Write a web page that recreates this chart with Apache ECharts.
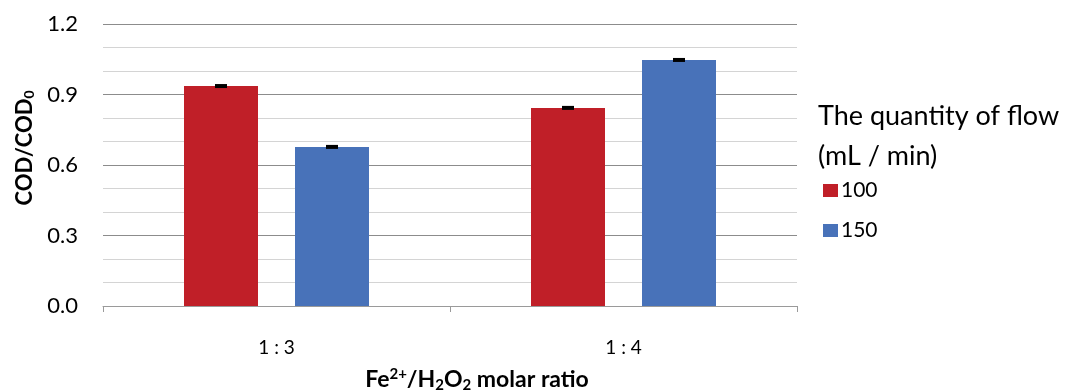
<!DOCTYPE html>
<html><head><meta charset="utf-8">
<script src="https://cdn.jsdelivr.net/npm/echarts@6/dist/echarts.min.js"></script>
<style>html,body{margin:0;padding:0;background:#fff}#c{width:1069px;height:392px}</style>
</head><body><div id="c"></div>
<script>
const categories = ['1 : 3', '1 : 4'];
const seriesNames = ['100', '150'];
const values100 = [0.936, 0.843];
const values150 = [0.677, 1.047];
const err100 = [0.003, 0.003];
const err150 = [0.003, 0.003];
const yTicks = [0.0, 0.3, 0.6, 0.9, 1.2];

const colors = ['#C01F28', '#4872B9'];
const FONT = 'Lato';

function errSeries(idx, vals, errs) {
  return {
    type: 'custom', name: seriesNames[idx] + ' err', z: 10,
    data: vals.map((v, i) => [i, v, errs[i]]),
    renderItem: function (params, api) {
      const ci = api.value(0), v = api.value(1), e = api.value(2);
      const c = api.coord([ci, v]);
      const off = (idx === 0 ? -55.5 : 55.5);
      const top = api.coord([ci, v + e])[1];
      const bot = api.coord([ci, v - e])[1];
      const h = Math.max(bot - top, 4);
      return {
        type: 'rect',
        shape: { x: c[0] + off - 6, y: c[1] - h / 2, width: 12, height: h },
        style: { fill: '#000' }
      };
    },
    silent: true, tooltip: { show: false }
  };
}

const chart = echarts.init(document.getElementById('c'), null, { renderer: 'canvas' });
chart.setOption({
  animation: false,
  color: colors,
  textStyle: { fontFamily: FONT },
  grid: { left: 103, right: 272, top: 24, bottom: 86, containLabel: false, outerBoundsMode: 'none' },
  legend: {
    data: seriesNames,
    orient: 'vertical', left: 818, top: 175, itemGap: 19,
    itemWidth: 15, itemHeight: 13, icon: 'rect',
    textStyle: { fontFamily: FONT, fontSize: 21, color: '#000', padding: [0, 0, 0, -2] }
  },
  graphic: [{
    type: 'text', left: 818, top: 96,
    style: { text: 'The quantity of flow\n(mL / min)', font: '27px ' + FONT, fill: '#000', lineHeight: 40 }
  }],
  xAxis: {
    type: 'category', data: categories,
    axisLine: { lineStyle: { color: '#9a9a9a', width: 1 } },
    axisTick: { show: true, length: 6, lineStyle: { color: '#9a9a9a' } },
    axisLabel: { fontSize: 19, color: '#000', margin: 32, fontFamily: FONT },
    name: 'Fe{sup|2+}/H{sub|2}O{sub|2} molar ratio',
    nameLocation: 'middle', nameGap: 61,
    nameTextStyle: {
      fontSize: 23, fontWeight: 'bold', color: '#000', fontFamily: FONT,
      padding: [0, 0, 0, 54],
      rich: {
        sup: { fontSize: 15, fontWeight: 'bold', fontFamily: FONT, color: '#000', verticalAlign: 'top', padding: [0, 0, 9, 0] },
        sub: { fontSize: 15, fontWeight: 'bold', fontFamily: FONT, color: '#000', verticalAlign: 'bottom', padding: [11, 0, 0, 0] }
      }
    }
  },
  yAxis: {
    type: 'value', min: 0, max: 1.2, interval: 0.1,
    axisLine: { show: false }, axisTick: { show: false },
    axisLabel: {
      fontSize: 22, color: '#000', margin: 25, fontFamily: FONT,
      formatter: function (v) {
        const r = Math.round(v * 10);
        return (r % 3 === 0) ? (r / 10).toFixed(1) : '';
      }
    },
    splitLine: { lineStyle: { color: ['#8c8c8c', '#d4d4d4', '#d4d4d4'], width: 1 } },
    name: 'COD/COD{sub|0}', nameLocation: 'middle', nameGap: 66, nameRotate: 90,
    nameTextStyle: {
      fontSize: 22, fontWeight: 'bold', color: '#000', fontFamily: FONT,
      padding: [0, 0, 0, 34],
      rich: {
        sub: { fontSize: 14, fontWeight: 'bold', fontFamily: FONT, color: '#000', verticalAlign: 'bottom', padding: [8, 0, 0, 0] }
      }
    }
  },
  series: [
    { type: 'bar', name: seriesNames[0], data: values100, barWidth: 74, barGap: '50%' },
    { type: 'bar', name: seriesNames[1], data: values150, barWidth: 74, barGap: '50%' },
    errSeries(0, values100, err100),
    errSeries(1, values150, err150)
  ]
});
</script></body></html>
